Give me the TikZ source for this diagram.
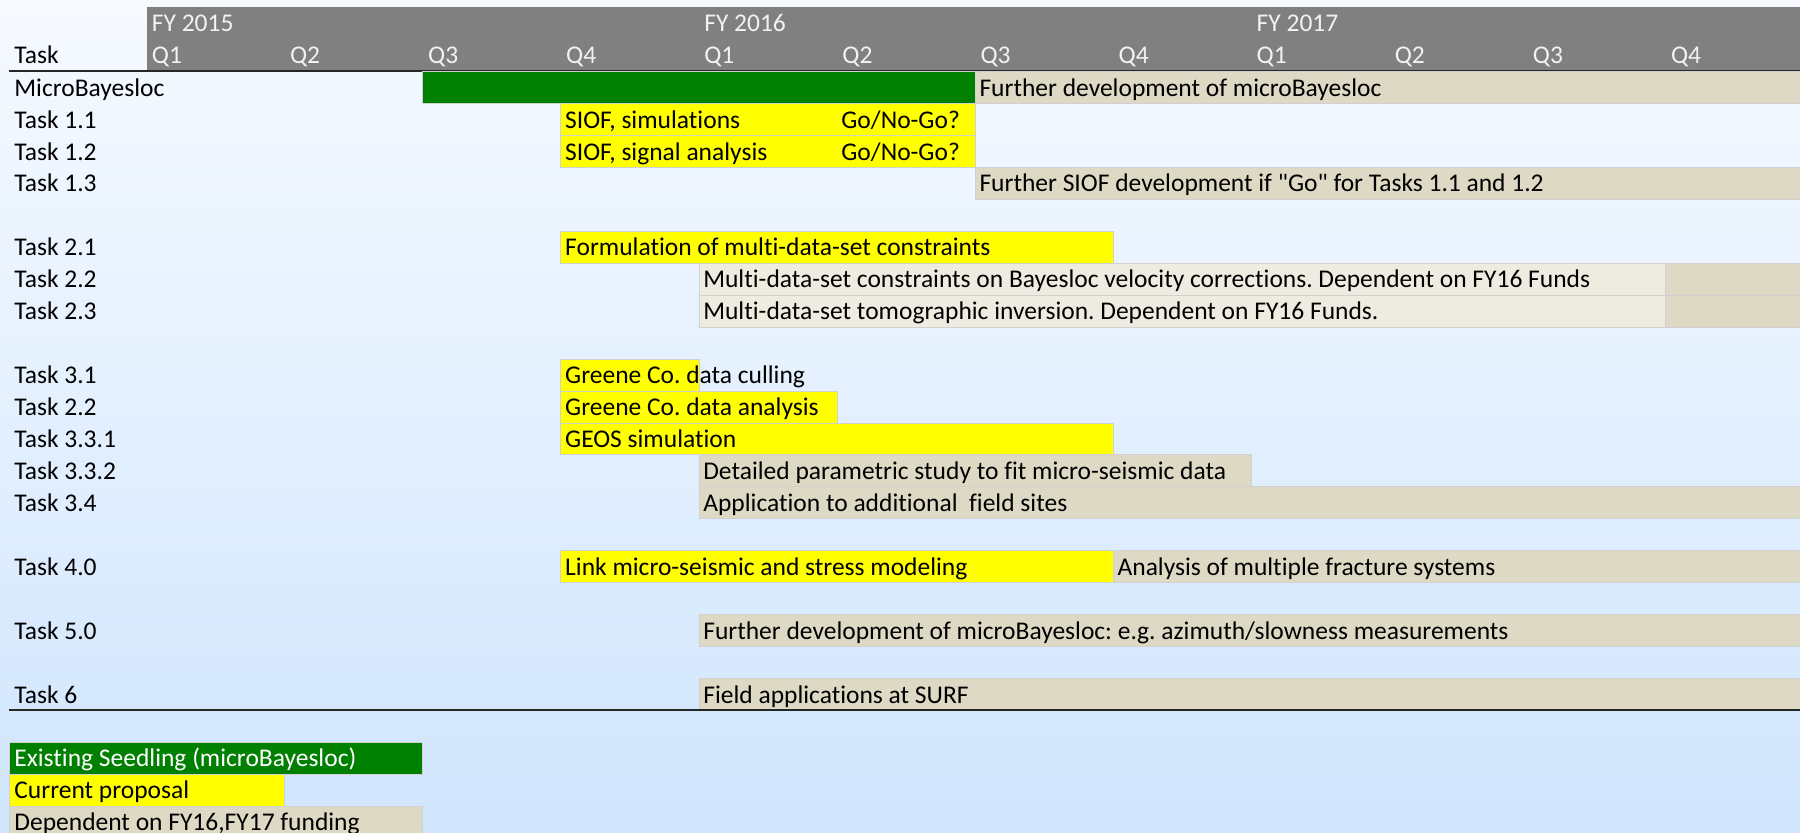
\documentclass[tikz,border=0pt]{standalone}
\usepackage{fontspec}
\setmainfont{Carlito}[Ligatures={TeXOff,NoCommon}]
\frenchspacing
\definecolor{bgtop}{RGB}{246,250,255}
\definecolor{bgbot}{RGB}{208,229,253}
\definecolor{hdrgray}{RGB}{128,128,128}
\definecolor{seedgreen}{RGB}{0,128,0}
\definecolor{propyellow}{RGB}{255,255,0}
\definecolor{depbeige}{RGB}{221,217,196}
\definecolor{lightbeige}{RGB}{238,236,225}
\definecolor{hdrtext}{RGB}{242,242,242}
\tikzset{
  every node/.style={font=\fontsize{12.75}{15}\selectfont\frenchspacing, inner sep=0pt, anchor=base west},
  barline/.style={draw=black!18, line width=0.4pt},
  rule/.style={draw=black!85, line width=1pt},
  hdr/.style={text=hdrtext},
  legtext/.style={text=white}
}
% column x (pixels): 146.5 + k*138.1 ; row top: 71.5 + r*31.95
\newcommand{\gbar}[4]{%
  \path[barline, fill=#4] ({146.5+#2*138.1},{71.5+#1*31.95}) rectangle ({146.5+#3*138.1},{71.5+(#1+1)*31.95});}
\newcommand{\gtext}[4]{% name, row, x, text
  \node (#1) at ({#3},{71.5+(#2+1)*31.95-7.3}) {#4};}
\begin{document}
\begin{tikzpicture}[x=0.5pt,y=-0.5pt]
\useasboundingbox (0,0) rectangle (1800,833);
\shade[top color=bgtop, bottom color=bgbot] (0,0) rectangle (1800,833);
\clip (0,0) rectangle (1800,833);
% header
\fill[hdrgray] (146.5,7.3) rectangle (1800,70.7);
\coordinate (hl) at (9,71);
\coordinate (hr) at (1800,71);
\draw[rule] (hl) -- (hr);
\node (task) at (14,63.3) {Task};
\node[hdr] (fy15) at ({146.5+5},31.7) {FY 2015};
\node[hdr] (fy16) at ({146.5+4*138.1+5},31.7) {FY 2016};
\node[hdr] (fy17) at ({146.5+8*138.1+5},31.7) {FY 2017};
\foreach \k/\q in {0/Q1,1/Q2,2/Q3,3/Q4,4/Q1,5/Q2,6/Q3,7/Q4,8/Q1,9/Q2,10/Q3,11/Q4}{
  \node[hdr] (q\k) at ({146.5+\k*138.1+5},63.3) {\q};
}
% bars
\gbar{0}{2}{6}{seedgreen}
\gbar{0}{6}{12}{depbeige}
\gbar{1}{3}{6}{propyellow}
\gbar{2}{3}{6}{propyellow}
\gbar{3}{6}{12}{depbeige}
\gbar{5}{3}{7}{propyellow}
\gbar{6}{4}{11}{lightbeige}
\gbar{6}{11}{12}{depbeige}
\gbar{7}{4}{11}{lightbeige}
\gbar{7}{11}{12}{depbeige}
\gbar{9}{3}{4}{propyellow}
\gbar{10}{3}{5}{propyellow}
\gbar{11}{3}{7}{propyellow}
\gbar{12}{4}{8}{depbeige}
\gbar{13}{4}{12}{depbeige}
\gbar{15}{3}{7}{propyellow}
\gbar{15}{7}{12}{depbeige}
\gbar{17}{4}{12}{depbeige}
\gbar{19}{4}{12}{depbeige}
\coordinate (bl) at (9,710);
\coordinate (br) at (1800,710);
\draw[rule] (bl) -- (br);
% task labels
\gtext{t0}{0}{14}{MicroBayesloc}
\gtext{t1}{1}{14}{Task 1.1}
\gtext{t2}{2}{14}{Task 1.2}
\gtext{t3}{3}{14}{Task 1.3}
\gtext{t5}{5}{14}{Task 2.1}
\gtext{t6}{6}{14}{Task 2.2}
\gtext{t7}{7}{14}{Task 2.3}
\gtext{t9}{9}{14}{Task 3.1}
\gtext{t10}{10}{14}{Task 2.2}
\gtext{t11}{11}{14}{Task 3.3.1}
\gtext{t12}{12}{14}{Task 3.3.2}
\gtext{t13}{13}{14}{Task 3.4}
\gtext{t15}{15}{14}{Task 4.0}
\gtext{t17}{17}{14}{Task 5.0}
\gtext{t19}{19}{14}{Task 6}
% bar texts
\gtext{b0}{0}{146.5+6*138.1+4}{Further development of microBayesloc}
\gtext{b1}{1}{146.5+3*138.1+4}{SIOF, simulations}
\gtext{b1g}{1}{146.5+5*138.1+4}{Go/No-Go?}
\gtext{b2}{2}{146.5+3*138.1+4}{SIOF, signal analysis}
\gtext{b2g}{2}{146.5+5*138.1+4}{Go/No-Go?}
\gtext{b3}{3}{146.5+6*138.1+4}{Further SIOF development if "Go" for Tasks 1.1 and 1.2}
\gtext{b5}{5}{146.5+3*138.1+4}{Formulation of multi-data-set constraints}
\gtext{b6}{6}{146.5+4*138.1+4}{Multi-data-set constraints on Bayesloc velocity corrections. Dependent on FY16 Funds}
\gtext{b7}{7}{146.5+4*138.1+4}{Multi-data-set tomographic inversion. Dependent on FY16 Funds.}
\gtext{b9}{9}{146.5+3*138.1+4}{Greene Co. data culling}
\gtext{b10}{10}{146.5+3*138.1+4}{Greene Co. data analysis}
\gtext{b11}{11}{146.5+3*138.1+4}{GEOS simulation}
\gtext{b12}{12}{146.5+4*138.1+4}{Detailed parametric study to fit micro-seismic data}
\gtext{b13}{13}{146.5+4*138.1+4}{Application to additional\ \ field sites}
\gtext{b15}{15}{146.5+3*138.1+4}{Link micro-seismic and stress modeling}
\gtext{b15b}{15}{146.5+7*138.1+4}{Analysis of multiple fracture systems}
\gtext{b17}{17}{146.5+4*138.1+4}{Further development of microBayesloc: e.g. azimuth/slowness measurements}
\gtext{b19}{19}{146.5+4*138.1+4}{Field applications at SURF}
% legend
\path[barline, fill=seedgreen] (9,742.3) rectangle (422.8,774.2);
\path[barline, fill=propyellow] (9,774.2) rectangle (284.6,806.1);
\path[barline, fill=depbeige] (9,806.1) rectangle (422.8,838);
\node[legtext] (l1) at (14,766.9) {Existing Seedling (microBayesloc)};
\node (l2) at (14,798.8) {Current proposal};
\node (l3) at (14,830.7) {Dependent on FY16,FY17 funding};
\end{tikzpicture}
\end{document}
